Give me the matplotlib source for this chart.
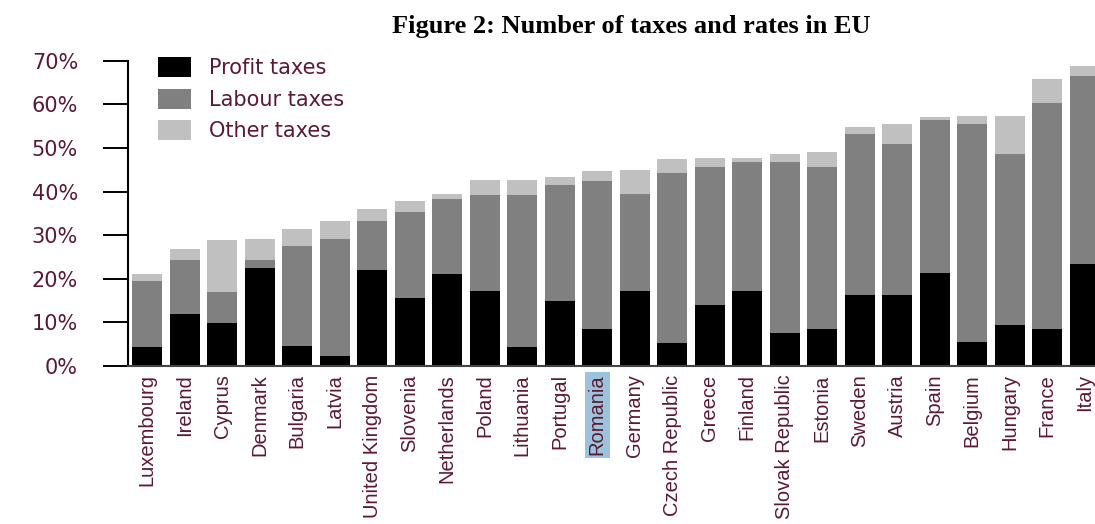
import numpy as np
import matplotlib
matplotlib.use("Agg")
import matplotlib.pyplot as plt

countries = ["Luxembourg", "Ireland", "Cyprus", "Denmark", "Bulgaria", "Latvia",
             "United Kingdom", "Slovenia", "Netherlands", "Poland", "Lithuania",
             "Portugal", "Romania", "Germany", "Czech Republic", "Greece", "Finland",
             "Slovak Republic", "Estonia", "Sweden", "Austria", "Spain", "Belgium",
             "Hungary", "France", "Italy"]
profit = [4.3, 11.9, 9.8, 22.4, 4.6, 2.4, 22.1, 15.7, 21.1, 17.3, 4.3, 14.8, 8.4,
          17.3, 5.3, 14.1, 17.3, 7.5, 8.4, 16.3, 16.3, 21.4, 5.6, 9.4, 8.4, 23.3]
labour = [15.2, 12.4, 7.2, 1.9, 22.9, 26.7, 11.1, 19.5, 17.2, 21.9, 34.9, 26.7, 34.0,
          22.2, 39.0, 31.5, 29.5, 39.3, 37.2, 36.9, 34.7, 35.0, 49.8, 39.3, 51.8, 43.2]
other = [1.5, 2.5, 11.8, 4.8, 4.0, 4.1, 2.8, 2.7, 1.2, 3.5, 3.5, 1.8, 2.2,
         5.4, 3.2, 2.2, 1.0, 1.9, 3.4, 1.6, 4.4, 0.6, 1.9, 8.6, 5.7, 2.2]
series_names = ["Profit taxes", "Labour taxes", "Other taxes"]
yticks = [0, 10, 20, 30, 40, 50, 60, 70]
highlight = "Romania"

colors = ["#000000", "#808080", "#c0c0c0"]
txt = "#5c1a2e"

fig = plt.figure(figsize=(10.95, 5.24), dpi=100)
ax = fig.add_axes([0.1169, 0.3015, 0.8831, 0.5827])

x = np.arange(len(countries))
w = 0.8
p = np.array(profit); l = np.array(labour); o = np.array(other)
ax.bar(x, p, w, color=colors[0], label=series_names[0])
ax.bar(x, l, w, bottom=p, color=colors[1], label=series_names[1])
ax.bar(x, o, w, bottom=p + l, color=colors[2], label=series_names[2])

ax.set_xlim(-0.51, 25.27)
ax.set_ylim(0, 70)
ax.set_yticks(yticks)
ax.set_yticklabels([f"{v}%" for v in yticks], fontsize=15, color=txt,
                   family="DejaVu Sans")
ax.tick_params(axis="y", length=18, width=1.4, pad=18, color="black")
ax.set_xticks(x)
ax.set_xticklabels(countries, rotation=90, fontsize=14.5, color=txt,
                   family="Liberation Sans")
ax.tick_params(axis="x", length=0, pad=6)
for lab in ax.get_xticklabels():
    if lab.get_text() == highlight:
        lab.set_bbox(dict(facecolor="#9cc3dd", edgecolor="none", pad=2))

for s in ("top", "right"):
    ax.spines[s].set_visible(False)
ax.spines["left"].set_linewidth(1.5)
ax.spines["bottom"].set_color("#444444")
ax.spines["bottom"].set_linewidth(1.5)

leg = ax.legend(loc="upper left", bbox_to_anchor=(158 / 1095, 1 - 57 / 524),
                bbox_transform=fig.transFigure, frameon=False, fontsize=15,
                handlelength=1.6, handleheight=1.1, handletextpad=0.85,
                labelspacing=0.5, borderpad=0, borderaxespad=0)
for t in leg.get_texts():
    t.set_color(txt)

fig.text(631 / 1095, 1 - 33.5 / 524, "Figure 2: Number of taxes and rates in EU",
         ha="center", va="baseline", fontsize=19, fontweight="bold",
         family="Liberation Serif")

fig.savefig("out.png", dpi=100)
